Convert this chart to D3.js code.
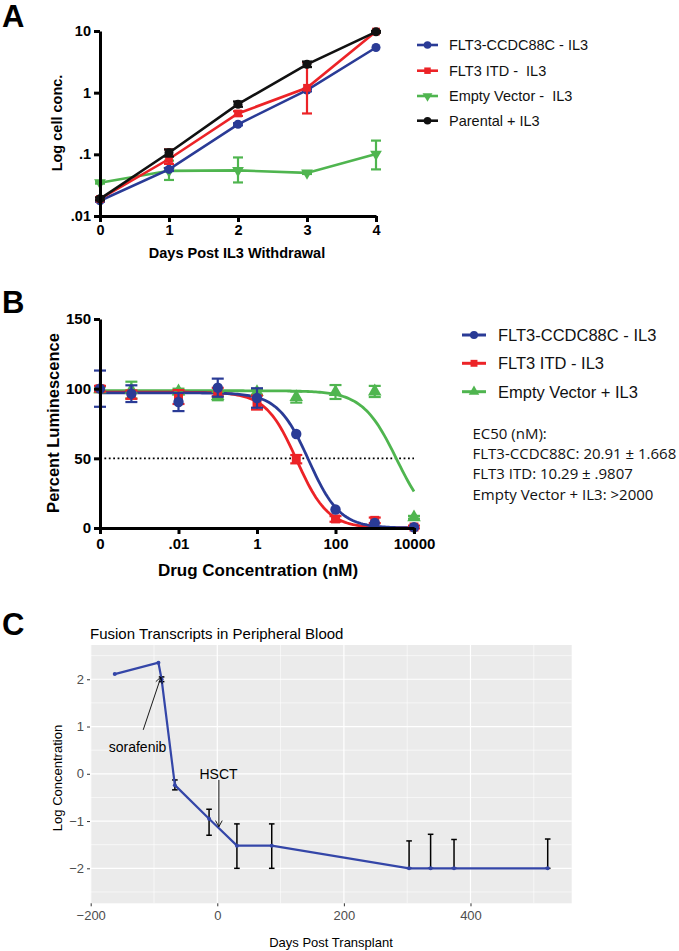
<!doctype html>
<html>
<head>
<meta charset="utf-8"/>
<title>FLT3-CCDC88C figure</title>
<script src="https://d3js.org/d3.v7.min.js"></script>
<style>
body { margin:0; background:#fff; }
svg { display:block; }
text { white-space: pre; }
.prism text { font-family:"Liberation Sans", Arial, sans-serif; font-weight:bold; }
.gg text { font-family:"Liberation Sans", Arial, sans-serif; }
</style>
</head>
<body>
<script>
// ---------- panel A : growth after IL3 withdrawal ----------
var daysA = [0, 1, 2, 3, 4];
var namesA = ["FLT3-CCDC88C - IL3", "FLT3 ITD -  IL3", "Empty Vector -  IL3", "Parental + IL3"];
var blueA = [0.0177, 0.057, 0.307, 1.1, 5.4];
var blueAlo = [0.0170, 0.054, 0.295, 1.05, 5.3];
var blueAhi = [0.0185, 0.060, 0.320, 1.15, 5.5];
var redA = [0.0189, 0.084, 0.46, 1.2, 9.8];
var redAlo = [0.0180, 0.070, 0.42, 0.46, 9.5];
var redAhi = [0.0200, 0.120, 0.50, 3.1, 10.0];
var greenA = [0.0347, 0.054, 0.055, 0.050, 0.101];
var greenAlo = [0.0335, 0.0384, 0.035, 0.048, 0.057];
var greenAhi = [0.036, 0.079, 0.089, 0.052, 0.167];
var blackA = [0.019, 0.106, 0.65, 2.88, 9.7];
var blackAlo = [0.018, 0.092, 0.59, 2.6, 9.4];
var blackAhi = [0.020, 0.120, 0.72, 3.2, 10.0];
var yTicksA = [10, 1, 0.1, 0.01];
var yLabelsA = ["10", "1", ".1", ".01"];

// ---------- panel B : dose response ----------
var concB = [0.0001, 0.00063, 0.01, 0.1, 1, 10, 100, 1000, 10000];
var blueB = [100, 96.4, 90.4, 100.7, 93.3, 67.5, 13.3, 3.6, 0.5];
var blueBerr = [13, 6, 6.5, 6.5, 7, 0, 0, 0, 0];
var redB = [100, 95.7, 94, 97.6, 90, 49.4, 6.5, 5.5, 0.7];
var redBerr = [2, 3, 5, 3, 5, 3, 2, 2, 1];
var greenB = [99.5, 99, 98, 94.7, 97.6, 94, 97.6, 98, 7.7];
var greenBerr = [2, 6, 2, 3, 2, 4, 5, 4, 1];
var namesB = ["FLT3-CCDC88C - IL3", "FLT3 ITD - IL3", "Empty Vector + IL3"];
// four-parameter fit: top, bottom, log EC50, hill slope
var fitBlue = [97, 0, 1.32, 1.1];
var fitRed = [97.5, 0, 1.012, 1.1];
var fitGreen = [98.5, 0, 3.56, 1.0];
var xTicksB = [0.0001, 0.01, 1, 100, 10000];
var xLabelsB = ["0", ".01", "1", "100", "10000"];
var yTicksB = [0, 50, 100, 150];
var ec50Lines = ["EC50 (nM):", "FLT3-CCDC88C: 20.91 \u00b1 1.668", "FLT3 ITD: 10.29 \u00b1 .9807", "Empty Vector + IL3: >2000"];

// ---------- panel C : fusion transcripts ----------
var daysC = [-162, -93, -88, -67, -13, 31, 86, 303, 337, 374, 522];
var logC = [2.11, 2.35, 2.0, -0.24, -0.95, -1.52, -1.52, -2, -2, -2, -2];
var logClo = [2.11, 2.35, 1.95, -0.34, -1.3, -2, -2, -2, -2, -2, -2];
var logChi = [2.11, 2.35, 2.05, -0.13, -0.75, -1.06, -1.06, -1.42, -1.28, -1.39, -1.38];
var xTicksC = [-200, 0, 200, 400];
var yTicksC = [-2, -1, 0, 1, 2];

var cBlue = "#2a3b96", cRed = "#ec2327", cGreen = "#4fb54f", cBlack = "#111";

var svg = d3.select("body").append("svg").attr("width", 679).attr("height", 951);

function panelLetter(t, x, y) {
  svg.append("text").attr("x", x).attr("y", y).text(t)
    .attr("font-family", "Liberation Sans, Arial, sans-serif").attr("font-weight", "bold")
    .attr("font-size", 31);
}

function prismAxis(g, ax) {
  g.call(ax);
  g.select(".domain").attr("stroke", "#000").attr("stroke-width", 3);
  g.selectAll(".tick line").attr("stroke", "#000").attr("stroke-width", 3);
  g.selectAll(".tick text").attr("fill", "#000");
}

function errBars(g, xs, lo, hi, x, y, color, cap, sw) {
  xs.forEach(function(d, i) {
    var px = x(d), y1 = y(lo[i]), y2 = y(hi[i]);
    if (Math.abs(y1 - y2) < 1) return;
    g.append("line").attr("x1", px).attr("x2", px).attr("y1", y1).attr("y2", y2)
      .attr("stroke", color).attr("stroke-width", sw);
    [y1, y2].forEach(function(yy) {
      g.append("line").attr("x1", px - cap / 2).attr("x2", px + cap / 2).attr("y1", yy).attr("y2", yy)
        .attr("stroke", color).attr("stroke-width", sw);
    });
  });
}

function markers(g, xs, vals, x, y, type, size, color, rot) {
  g.selectAll(null).data(vals).enter().append("path")
    .attr("d", d3.symbol().type(type).size(size))
    .attr("transform", function(d, i) { return "translate(" + x(xs[i]) + "," + y(d) + ")" + (rot ? " rotate(180)" : ""); })
    .attr("fill", color);
}

// ================= A =================
panelLetter("A", 2, 27);
var gA = svg.append("g").attr("class", "prism");
var xA = d3.scaleLinear().domain([0, 4]).range([100, 376]);
var yA = d3.scaleLog().domain([0.01, 10]).range([216, 31]);

var seriesA = [
  {v: greenA, lo: greenAlo, hi: greenAhi, c: cGreen, t: d3.symbolTriangle, r: true, s: 60},
  {v: blueA, lo: blueAlo, hi: blueAhi, c: cBlue, t: d3.symbolCircle, r: false, s: 64},
  {v: redA, lo: redAlo, hi: redAhi, c: cRed, t: d3.symbolSquare, r: false, s: 60},
  {v: blackA, lo: blackAlo, hi: blackAhi, c: cBlack, t: d3.symbolCircle, r: false, s: 64}
];
seriesA.forEach(function(s) {
  gA.append("path").datum(s.v)
    .attr("d", d3.line().x(function(d, i) { return xA(daysA[i]); }).y(function(d) { return yA(d); }))
    .attr("fill", "none").attr("stroke", s.c).attr("stroke-width", 2.6);
  errBars(gA, daysA, s.lo, s.hi, xA, yA, s.c, 10, 2.2);
  markers(gA, daysA, s.v, xA, yA, s.t, s.s, s.c, s.r);
});

prismAxis(gA.append("g").attr("transform", "translate(100,0)"),
  d3.axisLeft(yA).tickValues(yTicksA).tickFormat(function(d, i) { return yLabelsA[i]; }).tickSize(6).tickSizeOuter(0).tickPadding(3));
prismAxis(gA.append("g").attr("transform", "translate(0,216)"),
  d3.axisBottom(xA).ticks(4).tickFormat(d3.format("d")).tickSize(6).tickSizeOuter(0).tickPadding(3));
gA.selectAll(".tick text").attr("font-size", 14.5).attr("font-family", "Liberation Sans, Arial, sans-serif").attr("font-weight", "bold");

gA.append("text").attr("transform", "translate(62,123) rotate(-90)").attr("text-anchor", "middle")
  .attr("font-size", 14.5).text("Log cell conc.");
gA.append("text").attr("x", 237).attr("y", 258).attr("text-anchor", "middle")
  .attr("font-size", 14.5).text("Days Post IL3 Withdrawal");

// legend A
var legA = svg.append("g").attr("class", "gg");
var rowsA = [45, 70.7, 96, 120.7];
var legSeriesA = [seriesA[1], seriesA[2], seriesA[0], seriesA[3]];
namesA.forEach(function(n, i) {
  var s = legSeriesA[i], yy = rowsA[i];
  legA.append("line").attr("x1", 417).attr("x2", 438).attr("y1", yy).attr("y2", yy)
    .attr("stroke", s.c).attr("stroke-width", 2.6);
  legA.append("path").attr("d", d3.symbol().type(s.t).size(s.s * 0.7))
    .attr("transform", "translate(427.5," + yy + ")" + (s.r ? " rotate(180)" : "")).attr("fill", s.c);
  legA.append("text").attr("x", 449).attr("y", yy + 5.2).attr("font-size", 14.5).attr("fill", "#111").text(n);
});

// ================= B =================
panelLetter("B", 2, 313);
var gB = svg.append("g").attr("class", "prism");
var xB = d3.scaleLog().domain([0.0001, 10000]).range([100, 414]);
var yB = d3.scaleLinear().domain([0, 150]).range([528, 319]);

gB.append("line").attr("x1", 100).attr("x2", 414).attr("y1", yB(50)).attr("y2", yB(50))
  .attr("stroke", "#000").attr("stroke-width", 1.8).attr("stroke-dasharray", "1.8,2.6");

function fitCurve(p) {
  var pts = d3.range(-4, 4.001, 0.05).map(function(lx) {
    return [lx, p[1] + (p[0] - p[1]) / (1 + Math.pow(10, (lx - p[2]) * p[3]))];
  });
  return d3.line().x(function(d) { return xB(Math.pow(10, d[0])); }).y(function(d) { return yB(d[1]); })(pts);
}

var seriesB = [
  {v: greenB, e: greenBerr, fit: fitGreen, c: cGreen, t: d3.symbolTriangle, s: 80},
  {v: redB, e: redBerr, fit: fitRed, c: cRed, t: d3.symbolSquare, s: 80},
  {v: blueB, e: blueBerr, fit: fitBlue, c: cBlue, t: d3.symbolCircle, s: 85}
];
seriesB.forEach(function(s) {
  gB.append("path").attr("d", fitCurve(s.fit)).attr("fill", "none").attr("stroke", s.c).attr("stroke-width", 2.8);
});
seriesB.forEach(function(s) {
  var lo = s.v.map(function(d, i) { return d - s.e[i]; });
  var hi = s.v.map(function(d, i) { return d + s.e[i]; });
  errBars(gB, concB, lo, hi, xB, yB, s.c, 12, 2.2);
  markers(gB, concB, s.v, xB, yB, s.t, s.s, s.c, false);
});

prismAxis(gB.append("g").attr("transform", "translate(100,0)"),
  d3.axisLeft(yB).tickValues(yTicksB).tickSize(6).tickSizeOuter(0).tickPadding(3));
prismAxis(gB.append("g").attr("transform", "translate(0,528)"),
  d3.axisBottom(xB).tickValues(xTicksB).tickFormat(function(d, i) { return xLabelsB[i]; }).tickSize(6).tickSizeOuter(0).tickPadding(4));
gB.selectAll(".tick text").attr("font-size", 15).attr("font-family", "Liberation Sans, Arial, sans-serif").attr("font-weight", "bold");

gB.append("text").attr("transform", "translate(59,423) rotate(-90)").attr("text-anchor", "middle")
  .attr("font-size", 16.5).text("Percent Luminescence");
gB.append("text").attr("x", 258).attr("y", 576).attr("text-anchor", "middle")
  .attr("font-size", 17).text("Drug Concentration (nM)");

// legend B
var legB = svg.append("g").attr("class", "gg");
var rowsB = [335, 363.3, 391.7];
var legSeriesB = [seriesB[2], seriesB[1], seriesB[0]];
namesB.forEach(function(n, i) {
  var s = legSeriesB[i], yy = rowsB[i];
  legB.append("line").attr("x1", 462).attr("x2", 486).attr("y1", yy).attr("y2", yy)
    .attr("stroke", s.c).attr("stroke-width", 3);
  legB.append("path").attr("d", d3.symbol().type(s.t).size(s.s * 0.6))
    .attr("transform", "translate(474," + yy + ")").attr("fill", s.c);
  legB.append("text").attr("x", 498).attr("y", yy + 6).attr("font-size", 16.5).attr("fill", "#111").text(n);
});
ec50Lines.forEach(function(t, i) {
  svg.append("text").attr("x", 472.5).attr("y", 439 + i * 20.2)
    .attr("font-family", "Open Sans, sans-serif").attr("font-size", 15).attr("fill", "#111").text(t);
});

// ================= C =================
panelLetter("C", 2, 635);
var gC = svg.append("g").attr("class", "gg");
var xC = d3.scaleLinear().domain([-201.1, 559.9]).range([90, 571.7]);
var yC = d3.scaleLinear().domain([-2.74, 2.725]).range([903.3, 645]);

gC.append("rect").attr("x", 90).attr("y", 645).attr("width", 481.7).attr("height", 258.3).attr("fill", "#ebebeb");
d3.range(-100, 560, 200).forEach(function(d) {
  gC.append("line").attr("x1", xC(d)).attr("x2", xC(d)).attr("y1", 645).attr("y2", 903.3).attr("stroke", "#fff").attr("stroke-width", 0.6);
});
d3.range(-2.5, 2.6, 1).forEach(function(d) {
  gC.append("line").attr("x1", 90).attr("x2", 571.7).attr("y1", yC(d)).attr("y2", yC(d)).attr("stroke", "#fff").attr("stroke-width", 0.6);
});
xTicksC.forEach(function(d) {
  gC.append("line").attr("x1", xC(d)).attr("x2", xC(d)).attr("y1", 645).attr("y2", 903.3).attr("stroke", "#fff").attr("stroke-width", 1.2);
});
yTicksC.forEach(function(d) {
  gC.append("line").attr("x1", 90).attr("x2", 571.7).attr("y1", yC(d)).attr("y2", yC(d)).attr("stroke", "#fff").attr("stroke-width", 1.2);
});

var axC1 = gC.append("g").attr("transform", "translate(90,0)").call(d3.axisLeft(yC).tickValues(yTicksC).tickSize(3).tickSizeOuter(0).tickPadding(3).tickFormat(d3.format("d")));
var axC2 = gC.append("g").attr("transform", "translate(0,903.3)").call(d3.axisBottom(xC).tickValues(xTicksC).tickSize(3).tickSizeOuter(0).tickPadding(4).tickFormat(d3.format("d")));
[axC1, axC2].forEach(function(a) {
  a.select(".domain").remove();
  a.selectAll(".tick line").attr("stroke", "#333").attr("stroke-width", 1);
  a.selectAll(".tick text").attr("fill", "#4d4d4d").attr("font-size", 13).attr("font-family", "Liberation Sans, Arial, sans-serif");
});

// error bars, line and points
daysC.forEach(function(d, i) {
  if (logChi[i] - logClo[i] < 0.01) return;
  var px = xC(d);
  gC.append("line").attr("x1", px).attr("x2", px).attr("y1", yC(logClo[i])).attr("y2", yC(logChi[i])).attr("stroke", "#000").attr("stroke-width", 1.5);
  [logClo[i], logChi[i]].forEach(function(v) {
    gC.append("line").attr("x1", px - 2.8).attr("x2", px + 2.8).attr("y1", yC(v)).attr("y2", yC(v)).attr("stroke", "#000").attr("stroke-width", 1.5);
  });
});
gC.append("path").datum(logC)
  .attr("d", d3.line().x(function(d, i) { return xC(daysC[i]); }).y(function(d) { return yC(d); }))
  .attr("fill", "none").attr("stroke", "#3446a8").attr("stroke-width", 2.2);
gC.selectAll(null).data(logC).enter().append("circle")
  .attr("cx", function(d, i) { return xC(daysC[i]); }).attr("cy", function(d) { return yC(d); })
  .attr("r", 2).attr("fill", "#3446a8");

// annotations
function arrow(x1, y1, x2, y2) {
  gC.append("line").attr("x1", xC(x1)).attr("y1", yC(y1)).attr("x2", xC(x2)).attr("y2", yC(y2)).attr("stroke", "#000").attr("stroke-width", 0.9);
  var a = Math.atan2(yC(y2) - yC(y1), xC(x2) - xC(x1)), L = 7;
  [0.5, -0.5].forEach(function(o) {
    gC.append("line").attr("x1", xC(x2)).attr("y1", yC(y2))
      .attr("x2", xC(x2) - L * Math.cos(a + o)).attr("y2", yC(y2) - L * Math.sin(a + o))
      .attr("stroke", "#000").attr("stroke-width", 0.9);
  });
}
arrow(-117, 0.93, -89, 2.05);
arrow(2.5, -0.13, 2.5, -1.12);
gC.append("text").attr("x", xC(-126)).attr("y", yC(0.57) + 5).attr("text-anchor", "middle").attr("font-size", 14).attr("fill", "#000").text("sorafenib");
gC.append("text").attr("x", xC(2)).attr("y", yC(0) + 5).attr("text-anchor", "middle").attr("font-size", 14).attr("fill", "#000").text("HSCT");

gC.append("text").attr("x", 90).attr("y", 639).attr("font-size", 15).attr("fill", "#000").text("Fusion Transcripts in Peripheral Blood");
gC.append("text").attr("transform", "translate(62,778) rotate(-90)").attr("text-anchor", "middle").attr("font-size", 13).attr("fill", "#000").text("Log Concentration");
gC.append("text").attr("x", 331).attr("y", 947).attr("text-anchor", "middle").attr("font-size", 13).attr("fill", "#000").text("Days Post Transplant");
</script>
</body>
</html>
